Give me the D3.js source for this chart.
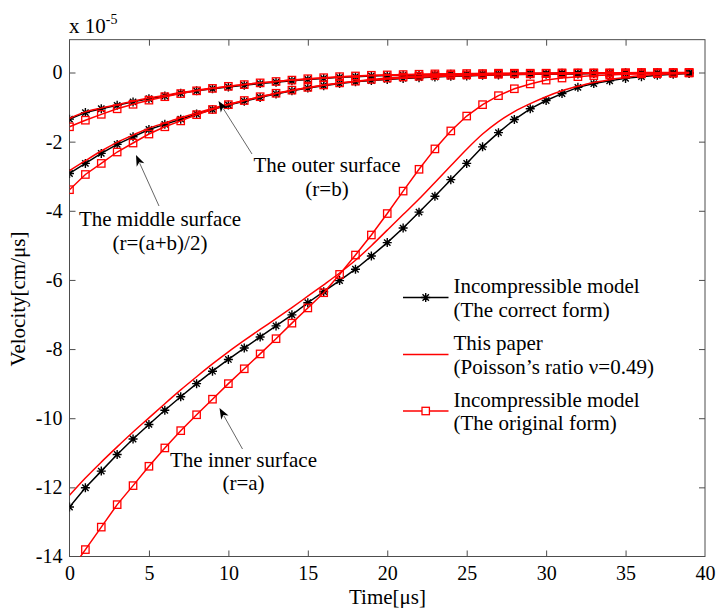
<!DOCTYPE html>
<html>
<head>
<meta charset="utf-8">
<script src="https://cdn.jsdelivr.net/npm/d3@7"></script>
<style>
  html, body { margin: 0; padding: 0; background: #fff; }
  svg { display: block; }
  text { font-family: 'Liberation Serif', 'Times New Roman', serif; fill: #000; }
</style>
</head>
<body>
<svg id="chart" width="717" height="608"></svg>
<script>
// ---------------- data (velocity in units of 1e-5 cm/us) ----------------
const time = d3.range(0, 40); // 0..39 us
// inner surface (r=a)
const innerCorrect = [-12.57,-12.01,-11.53,-11.05,-10.60,-10.18,-9.77,-9.38,-9.00,-8.64,
  -8.30,-7.97,-7.65,-7.33,-7.01,-6.66,-6.34,-6.02,-5.69,-5.31,
  -4.92,-4.50,-4.04,-3.58,-3.10,-2.63,-2.15,-1.74,-1.36,-1.05,
  -0.81,-0.61,-0.43,-0.32,-0.24,-0.17,-0.12,-0.08,-0.05,-0.03];
const innerPaper = [-12.23,-11.73,-11.27,-10.83,-10.40,-9.99,-9.58,-9.18,-8.80,-8.43,
  -8.08,-7.75,-7.43,-7.12,-6.80,-6.47,-6.14,-5.80,-5.43,-5.01,
  -4.56,-4.11,-3.66,-3.18,-2.70,-2.22,-1.78,-1.42,-1.13,-0.90,
  -0.70,-0.53,-0.40,-0.29,-0.21,-0.14,-0.09,-0.06,-0.04,-0.02];
const innerOriginal = [-14.45,-13.80,-13.15,-12.50,-11.95,-11.39,-10.86,-10.36,-9.90,-9.45,
  -9.00,-8.57,-8.14,-7.70,-7.25,-6.81,-6.37,-5.84,-5.28,-4.70,
  -4.08,-3.43,-2.80,-2.21,-1.69,-1.26,-0.93,-0.67,-0.47,-0.33,
  -0.22,-0.16,-0.12,-0.09,-0.07,-0.05,-0.04,-0.03,-0.02,-0.01];
// middle surface (r=(a+b)/2)
const middleCorrect = [-2.92,-2.63,-2.34,-2.08,-1.86,-1.65,-1.50,-1.35,-1.20,-1.07,
  -0.94,-0.83,-0.72,-0.62,-0.53,-0.45,-0.38,-0.32,-0.27,-0.23,
  -0.20,-0.17,-0.15,-0.13,-0.11,-0.10,-0.08,-0.07,-0.06,-0.05,
  -0.05,-0.04,-0.04,-0.03,-0.03,-0.02,-0.02,-0.02,-0.01,-0.01];
const middlePaper = [-2.84,-2.55,-2.27,-2.02,-1.81,-1.61,-1.46,-1.31,-1.17,-1.04,
  -0.92,-0.81,-0.70,-0.61,-0.52,-0.44,-0.37,-0.31,-0.26,-0.22,
  -0.19,-0.16,-0.14,-0.12,-0.10,-0.09,-0.08,-0.07,-0.06,-0.05,
  -0.04,-0.04,-0.03,-0.03,-0.02,-0.02,-0.02,-0.01,-0.01,-0.01];
const middleOriginal = [-3.39,-2.95,-2.63,-2.30,-2.04,-1.78,-1.57,-1.40,-1.22,-1.07,
  -0.93,-0.81,-0.70,-0.60,-0.51,-0.43,-0.36,-0.30,-0.25,-0.20,
  -0.16,-0.13,-0.11,-0.09,-0.08,-0.07,-0.06,-0.05,-0.04,-0.04,
  -0.03,-0.03,-0.02,-0.02,-0.02,-0.01,-0.01,-0.01,-0.01,-0.01];
// outer surface (r=b)
const outerCorrect = [-1.35,-1.16,-1.05,-0.95,-0.85,-0.76,-0.68,-0.60,-0.53,-0.47,
  -0.42,-0.37,-0.32,-0.28,-0.24,-0.20,-0.17,-0.14,-0.12,-0.10,
  -0.09,-0.08,-0.07,-0.06,-0.05,-0.05,-0.04,-0.04,-0.03,-0.03,
  -0.03,-0.02,-0.02,-0.02,-0.02,-0.01,-0.01,-0.01,-0.01,-0.01];
const outerPaper = [-1.33,-1.14,-1.03,-0.93,-0.83,-0.74,-0.66,-0.58,-0.51,-0.45,
  -0.40,-0.35,-0.30,-0.26,-0.22,-0.19,-0.16,-0.13,-0.11,-0.09,
  -0.08,-0.07,-0.06,-0.05,-0.04,-0.04,-0.03,-0.03,-0.03,-0.02,
  -0.02,-0.02,-0.02,-0.01,-0.01,-0.01,-0.01,-0.01,-0.01,0.00];
const outerOriginal = [-1.57,-1.38,-1.21,-1.05,-0.92,-0.80,-0.70,-0.61,-0.53,-0.46,
  -0.40,-0.35,-0.30,-0.26,-0.22,-0.18,-0.15,-0.12,-0.10,-0.08,
  -0.07,-0.06,-0.05,-0.04,-0.04,-0.03,-0.03,-0.02,-0.02,-0.02,
  -0.02,-0.01,-0.01,-0.01,-0.01,-0.01,0.00,0.00,0.00,0.00];

const xTicks = [0, 5, 10, 15, 20, 25, 30, 35, 40];
const yTicks = [0, -2, -4, -6, -8, -10, -12, -14];
const legendLabels = [
  ["Incompressible model", "(The correct form)"],
  ["This paper", "(Poisson\u2019s ratio \u03bd=0.49)"],
  ["Incompressible model", "(The original form)"]
];
const annotations = [
  { lines: ["The outer surface", "(r=b)"], textX: 327, textY: 172, tail: [252, 154], tip: [218.5, 101] },
  { lines: ["The middle surface", "(r=(a+b)/2)"], textX: 160, textY: 226, tail: [159, 206], tip: [136, 155] },
  { lines: ["The inner surface", "(r=a)"], textX: 243.5, textY: 466.5, tail: [242.5, 449], tip: [219.5, 408] }
];

// ---------------- layout ----------------
const svg = d3.select("#chart");
const x = d3.scaleLinear().domain([0, 40]).range([69.5, 705]);
const y = d3.scaleLinear().domain([-14, 0]).range([556.5, 72.5]);
const yTopVal = 0.95;
const pLeft = x(0), pRight = x(40), pBottom = y(-14), pTop = y(yTopVal);
const frameColor = "#4d4d4d";

svg.append("defs").append("clipPath").attr("id", "plotClip")
  .append("rect").attr("x", pLeft).attr("y", pTop)
  .attr("width", pRight - pLeft).attr("height", pBottom - pTop);

// frame
svg.append("rect").attr("x", pLeft).attr("y", pTop)
  .attr("width", pRight - pLeft).attr("height", pBottom - pTop)
  .attr("fill", "none").attr("stroke", frameColor).attr("stroke-width", 1);

// axes with inward ticks
const tickLen = 6;
const gx = svg.append("g").attr("transform", `translate(0,${pBottom})`)
  .call(d3.axisBottom(x).tickValues(xTicks).tickSizeInner(-tickLen).tickSizeOuter(0).tickPadding(9));
const gxTop = svg.append("g").attr("transform", `translate(0,${pTop})`)
  .call(d3.axisTop(x).tickValues(xTicks).tickSizeInner(-tickLen).tickSizeOuter(0).tickFormat(""));
const gy = svg.append("g").attr("transform", `translate(${pLeft},0)`)
  .call(d3.axisLeft(y).tickValues(yTicks).tickSizeInner(-tickLen).tickSizeOuter(0).tickPadding(7));
const gyR = svg.append("g").attr("transform", `translate(${pRight},0)`)
  .call(d3.axisRight(y).tickValues(yTicks).tickSizeInner(-tickLen).tickSizeOuter(0).tickFormat(""));
[gx, gxTop, gy, gyR].forEach(g => {
  g.select(".domain").remove();
  g.selectAll(".tick line").attr("stroke", frameColor);
  g.selectAll("text").style("font-family", "'Liberation Serif','Times New Roman',serif")
    .style("font-size", "20px").attr("fill", "#000");
});
gx.selectAll(".tick").filter(d => d === 0 || d === 40).select("line").remove();
gxTop.selectAll(".tick").filter(d => d === 0 || d === 40).select("line").remove();
gy.selectAll(".tick").filter(d => d === -14).select("line").remove();
gyR.selectAll(".tick").filter(d => d === -14).select("line").remove();
gy.selectAll("text").text(d => d === 0 ? "0" : String(d));

// axis labels
svg.append("text").attr("x", 387.5).attr("y", 604).attr("text-anchor", "middle")
  .style("font-size", "21px").text("Time[\u03bcs]");
svg.append("text").attr("transform", "translate(25,299) rotate(-90)").attr("text-anchor", "middle")
  .style("font-size", "21px").text("Velocity[cm/\u03bcs]");
const mult = svg.append("text").attr("x", 69).attr("y", 32.5).style("font-size", "21px");
mult.append("tspan").text("x 10");
mult.append("tspan").attr("dy", -9).style("font-size", "14px").text("-5");

// ---------------- series ----------------
const plot = svg.append("g").attr("clip-path", "url(#plotClip)");
const lineLin = d3.line().x((d, i) => x(time[i])).y(d => y(d));
const lineSmooth = d3.line().curve(d3.curveMonotoneX).x((d, i) => x(time[i])).y(d => y(d));

const starPath = (s) => {
  const r = s / 2, q = r * Math.SQRT1_2;
  return `M${-r},0L${r},0M0,${-r}L0,${r}M${-q},${-q}L${q},${q}M${-q},${q}L${q},${-q}`;
};
const sq = 7.4;

function drawStars(vals) {
  plot.append("path").datum(vals).attr("d", lineLin)
    .attr("fill", "none").attr("stroke", "#000").attr("stroke-width", 1.5);
  plot.append("g").selectAll("path").data(vals.map((v, i) => [time[i], v]).filter(d => d[1] >= -14 && d[1] <= yTopVal))
    .join("path").attr("transform", d => `translate(${x(d[0])},${y(d[1])})`)
    .attr("d", starPath(9)).attr("stroke", "#000").attr("stroke-width", 1.4).attr("fill", "none");
}
function drawPaper(vals) {
  plot.append("path").datum(vals).attr("d", lineSmooth)
    .attr("fill", "none").attr("stroke", "#ff0000").attr("stroke-width", 1.5);
}
function drawSquares(vals) {
  plot.append("path").datum(vals).attr("d", lineLin)
    .attr("fill", "none").attr("stroke", "#ff0000").attr("stroke-width", 1.5);
  plot.append("g").selectAll("rect").data(vals.map((v, i) => [time[i], v]).filter(d => d[1] >= -14 && d[1] <= yTopVal))
    .join("rect").attr("x", d => x(d[0]) - sq / 2).attr("y", d => y(d[1]) - sq / 2)
    .attr("width", sq).attr("height", sq)
    .attr("fill", "none").attr("stroke", "#ff0000").attr("stroke-width", 1.3);
}

[innerCorrect, middleCorrect, outerCorrect].forEach(drawStars);
[innerPaper, middlePaper, outerPaper].forEach(drawPaper);
[innerOriginal, middleOriginal, outerOriginal].forEach(drawSquares);

// ---------------- annotations ----------------
annotations.forEach(a => {
  const [tx, ty] = a.tail, [hx, hy] = a.tip;
  const ang = Math.atan2(hy - ty, hx - tx);
  const L = 11, W = 4.2, back = 3;
  const ux = Math.cos(ang), uy = Math.sin(ang), px = -uy, py = ux;
  const bx = hx - ux * L, by = hy - uy * L;
  svg.append("line").attr("x1", tx).attr("y1", ty).attr("x2", bx + ux * 2).attr("y2", by + uy * 2)
    .attr("stroke", "#555").attr("stroke-width", 0.9);
  svg.append("path")
    .attr("d", `M${hx},${hy}L${bx + px * W},${by + py * W}L${hx - ux * (L - back)},${hy - uy * (L - back)}L${bx - px * W},${by - py * W}Z`)
    .attr("fill", "#000");
  a.lines.forEach((t, i) => {
    svg.append("text").attr("x", a.textX).attr("y", a.textY + i * 23.5)
      .attr("text-anchor", "middle").style("font-size", "21px").text(t);
  });
});

// ---------------- legend ----------------
const legY = [297.5, 354.5, 411];
const legX1 = 403, legX2 = 448.5, legMid = 425.7;
const lg = svg.append("g");
legendLabels.forEach((lab, i) => {
  const col = i === 0 ? "#000" : "#ff0000";
  lg.append("line").attr("x1", legX1).attr("x2", legX2).attr("y1", legY[i]).attr("y2", legY[i])
    .attr("stroke", col).attr("stroke-width", 1.5);
  if (i === 0) {
    lg.append("path").attr("transform", `translate(${legMid},${legY[i]})`).attr("d", starPath(9))
      .attr("stroke", "#000").attr("stroke-width", 1.4);
  } else if (i === 2) {
    lg.append("rect").attr("x", legMid - sq / 2).attr("y", legY[i] - sq / 2).attr("width", sq).attr("height", sq)
      .attr("fill", "#fff").attr("stroke", "#ff0000").attr("stroke-width", 1.3);
  }
  lab.forEach((t, j) => {
    lg.append("text").attr("x", 453.5).attr("y", legY[i] - 4.5 + j * 23.5)
      .style("font-size", "21px").text(t);
  });
});
</script>
</body>
</html>
